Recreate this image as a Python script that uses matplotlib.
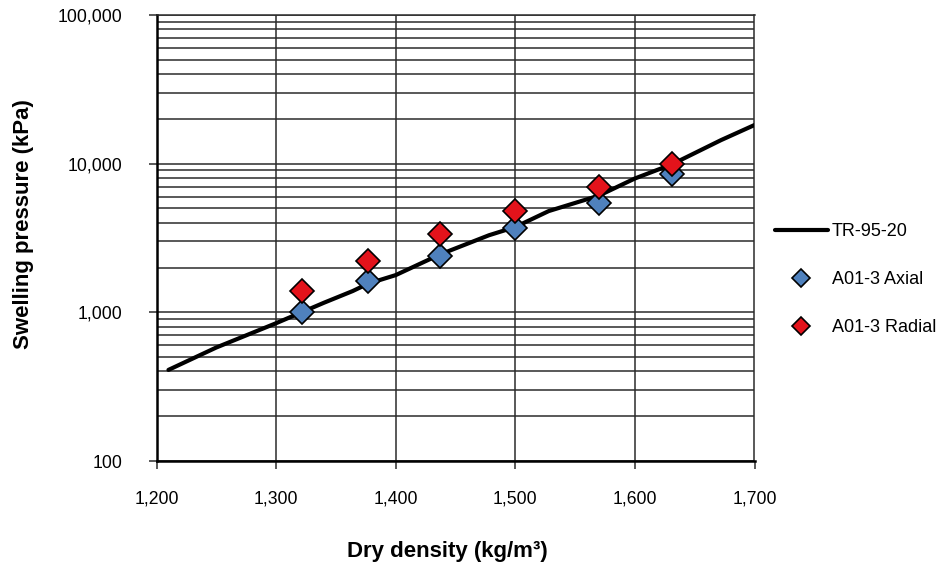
import matplotlib
matplotlib.use("Agg")
import matplotlib.pyplot as plt
from matplotlib.ticker import FixedLocator, LogLocator, NullFormatter, FuncFormatter

plt.rcParams['font.family'] = ['Liberation Sans', 'DejaVu Sans']

# TR-95-20 reference curve
tr_density = [1210, 1250, 1300, 1340, 1364, 1377, 1400, 1437, 1478, 1500, 1528, 1570, 1600, 1631, 1672, 1700]
tr_pressure = [410, 580, 845, 1160, 1390, 1560, 1780, 2450, 3300, 3750, 4800, 6100, 7950, 9900, 14400, 18200]

# A01-3 measurements
density = [1322, 1377, 1437, 1500, 1570, 1631]
axial = [1000, 1620, 2390, 3700, 5480, 8460]
radial = [1390, 2210, 3360, 4810, 6980, 9880]

x_ticks = [1200, 1300, 1400, 1500, 1600, 1700]
y_ticks = [100, 1000, 10000, 100000]

W, H = 941, 564
fig = plt.figure(figsize=(W / 100, H / 100), dpi=100)
ax = fig.add_axes([156.5 / W, 1 - 461 / H, 598 / W, 446 / H])

grid_c = '#2b2b2b'
ax.set_yscale('log')
ax.set_xlim(1200, 1700)
ax.set_ylim(100, 100000)

ax.plot(tr_density, tr_pressure, color='black', lw=3.0, solid_capstyle='round',
        label='TR-95-20', zorder=3)
ax.plot(density, axial, linestyle='none', marker='D', ms=12.5, mfc='#4F81BD',
        mec='black', mew=1.2, label='A01-3 Axial', zorder=4)
ax.plot(density, radial, linestyle='none', marker='D', ms=12.5, mfc='#E3131B',
        mec='black', mew=1.2, label='A01-3 Radial', zorder=5)

ax.xaxis.set_major_locator(FixedLocator(x_ticks))
ax.yaxis.set_major_locator(FixedLocator(y_ticks))
ax.yaxis.set_minor_locator(LogLocator(base=10, subs=range(2, 10), numticks=20))
ax.yaxis.set_minor_formatter(NullFormatter())
fmt = FuncFormatter(lambda v, p: f"{int(round(v)):,}")
ax.xaxis.set_major_formatter(fmt)
ax.yaxis.set_major_formatter(fmt)

ax.grid(True, which='major', axis='both', color=grid_c, lw=1.1)
ax.grid(True, which='minor', axis='y', color=grid_c, lw=1.1)
ax.set_axisbelow(True)

ax.tick_params(axis='both', which='major', direction='out', length=8 / 1.389,
               width=1.1, color=grid_c, labelsize=12.7, labelcolor='black')
ax.tick_params(axis='y', which='major', pad=19)
ax.tick_params(axis='x', which='major', pad=15.5)
ax.tick_params(axis='y', which='minor', length=0)

for side in ('top', 'right'):
    ax.spines[side].set_color(grid_c)
    ax.spines[side].set_linewidth(1.1)
for side in ('left', 'bottom'):
    ax.spines[side].set_color('black')
    ax.spines[side].set_linewidth(1.8)

fig.text(24 / W, 1 - 224.5 / H, 'Swelling pressure (kPa)', rotation=90,
         ha='center', va='center', fontsize=16, fontweight='bold')
fig.text(447 / W, 1 - 551 / H, 'Dry density (kg/m³)',
         ha='center', va='center', fontsize=16, fontweight='bold')

fig.legend(loc='upper left', bbox_to_anchor=(775 / W, 1 - 223 / H),
           frameon=False, fontsize=13, handlelength=2.93, handletextpad=0.22,
           labelspacing=1.72, borderpad=0, borderaxespad=0, markerscale=0.72)

fig.savefig('out.png', dpi=100)
